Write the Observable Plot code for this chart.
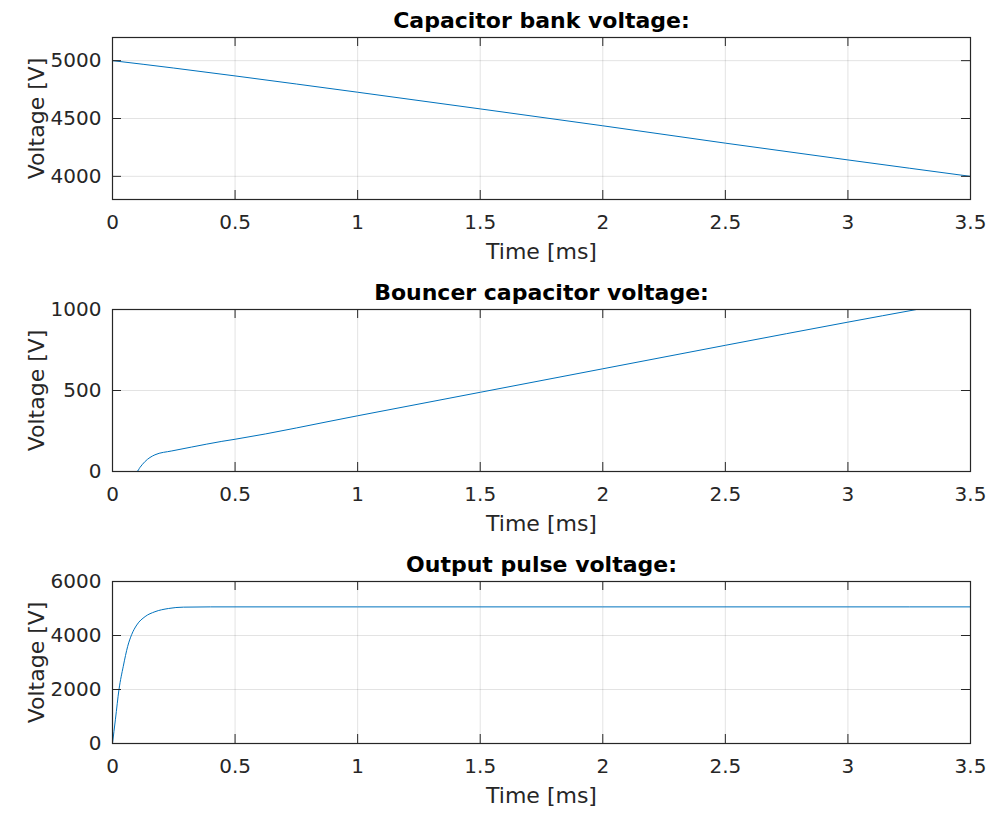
<!DOCTYPE html>
<html>
<head>
<meta charset="utf-8">
<script src="https://cdn.jsdelivr.net/npm/d3@7"></script>
<script src="https://cdn.jsdelivr.net/npm/@observablehq/plot@0.6"></script>
<style>
  html, body { margin: 0; padding: 0; background: #fff; }
  #chart svg { display: block; }
</style>
</head>
<body>
<div id="chart"></div>
<script>
// ---- data ----
const timeTicks = [0, 0.5, 1, 1.5, 2, 2.5, 3, 3.5];

const titles = ["Capacitor bank voltage:", "Bouncer capacitor voltage:", "Output pulse voltage:"];
const xLabel = "Time [ms]";
const yLabel = "Voltage [V]";

const bankTime    = [0, 0.25, 0.5, 1, 1.5, 2, 2.5, 3, 3.5];
const bankVoltage = [5000, 4936, 4868, 4727, 4583, 4437, 4287, 4142, 4000];
const bankTicks   = [4000, 4500, 5000];
const bankDomain  = [3800, 5200];

const bouncerTime    = [0, 0.1, 0.112, 0.133, 0.173, 0.242, 0.323, 0.446, 0.5, 1, 1.5, 2, 2.5, 3, 3.28];
const bouncerVoltage = [0, 0, 25, 62, 103, 127, 151, 186, 199, 344, 489, 634, 779, 922, 1000];
const bouncerTicks   = [0, 500, 1000];
const bouncerDomain  = [0, 1000];

const pulseTime    = [0, 0.012, 0.0265, 0.044, 0.062, 0.078, 0.099, 0.133, 0.173, 0.228, 0.289, 0.4, 1, 2, 3, 3.5];
const pulseVoltage = [0, 900, 2000, 2860, 3600, 4030, 4390, 4700, 4880, 5000, 5050, 5060, 5060, 5060, 5060, 5060];
const pulseTicks   = [0, 2000, 4000, 6000];
const pulseDomain  = [0, 6000];

// ---- layout / style ----
const W = 1007;
const mL = 112, mR = 37, mT = 37, frameH = 162;
const frameW = W - mL - mR;
const tickLen = 9;
const ink = "#262626";
const lineColor = "#0072BD";
const font = "DejaVu Sans, Liberation Sans, sans-serif";

function subplot(title, t, v, yDomain, yTicks, height) {
  const data = t.map((x, i) => ({t: x, v: v[i]}));
  const mB = height - mT - frameH;
  return Plot.plot({
    width: W,
    height,
    marginLeft: mL,
    marginRight: mR,
    marginTop: mT,
    marginBottom: mB,
    style: {fontFamily: font, color: ink, background: "#fff", overflow: "visible"},
    x: {domain: [0, 3.5], axis: null},
    y: {domain: yDomain, axis: null},
    marks: [
      Plot.gridX(timeTicks, {stroke: ink, strokeOpacity: 0.13}),
      Plot.gridY(yTicks, {stroke: ink, strokeOpacity: 0.13}),
      Plot.line(data, {x: "t", y: "v", stroke: lineColor, strokeWidth: 1, curve: "monotone-x"}),
      Plot.frame({stroke: ink, strokeWidth: 1.2}),
      // inward ticks on all four sides
      Plot.tickX(timeTicks, {x: d => d, stroke: ink, insetTop: frameH - tickLen}),
      Plot.tickX(timeTicks, {x: d => d, stroke: ink, insetBottom: frameH - tickLen}),
      Plot.tickY(yTicks, {y: d => d, stroke: ink, insetRight: frameW - tickLen}),
      Plot.tickY(yTicks, {y: d => d, stroke: ink, insetLeft: frameW - tickLen}),
      Plot.axisX(timeTicks, {tickSize: 0, tickPadding: 15, fontSize: 20, label: null, tickFormat: d => String(d), fill: ink}),
      Plot.axisY(yTicks, {tickSize: 0, tickPadding: 11, fontSize: 20, label: null, tickFormat: d => String(d), fill: ink}),
      Plot.text([xLabel], {frameAnchor: "bottom", lineAnchor: "top", dy: 44, fontSize: 22, fill: ink}),
      Plot.text([yLabel], {frameAnchor: "left", textAnchor: "middle", lineAnchor: "bottom", rotate: -90, dx: -69, fontSize: 22, fill: ink}),
      Plot.text([title], {frameAnchor: "top", lineAnchor: "bottom", dy: -10, fontSize: 22, fontWeight: "bold", fill: "#000"})
    ]
  });
}

const el = document.getElementById("chart");
el.append(subplot(titles[0], bankTime, bankVoltage, bankDomain, bankTicks, 272));
el.append(subplot(titles[1], bouncerTime, bouncerVoltage, bouncerDomain, bouncerTicks, 272));
el.append(subplot(titles[2], pulseTime, pulseVoltage, pulseDomain, pulseTicks, 270));
</script>
</body>
</html>
